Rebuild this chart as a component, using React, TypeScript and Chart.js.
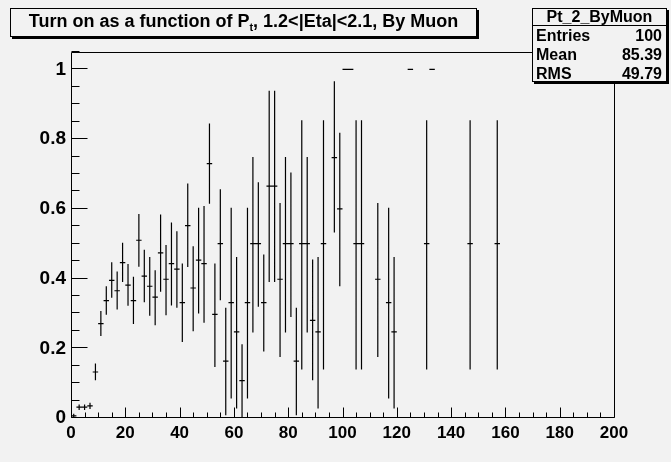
import React, { useEffect, useRef } from 'react';
import { Chart, registerables } from 'chart.js';

Chart.register(...registerables);

// Bin centres (bin width 2) of the turn-on histogram
const binCenters = [
  1, 3, 5, 7, 9, 11, 13, 15, 17, 19, 21, 23, 25, 27, 29, 31, 33, 35, 37, 39,
  41, 43, 45, 47, 49, 51, 53, 55, 57, 59, 61, 63, 65, 67, 69, 71, 73, 75, 77, 79,
  81, 83, 85, 87, 89, 91, 93, 97, 99, 101, 103, 105, 107, 113, 117, 119, 125, 131, 133, 147, 157,
];
// Efficiency in each bin
const efficiency = [
  0.006, 0.031, 0.031, 0.035, 0.132, 0.271, 0.337, 0.395, 0.365, 0.446, 0.381, 0.337, 0.51, 0.407, 0.378, 0.347, 0.474, 0.398, 0.443, 0.427,
  0.331, 0.552, 0.373, 0.453, 0.443, 0.73, 0.297, 0.5, 0.163, 0.331, 0.247, 0.107, 0.331, 0.5, 0.5, 0.331, 0.665, 0.665, 0.398, 0.5,
  0.5, 0.163, 0.5, 0.5, 0.28, 0.247, 0.5, 0.747, 0.6, 1, 1, 0.5, 0.5, 0.398, 0.331, 0.247, 1, 0.5, 1, 0.5, 0.5,
];
// Lower edge of the error bar
const errLow = [
  0.0, 0.023, 0.023, 0.026, 0.108, 0.235, 0.296, 0.345, 0.311, 0.39, 0.322, 0.27, 0.434, 0.332, 0.293, 0.266, 0.362, 0.295, 0.323, 0.316,
  0.218, 0.433, 0.249, 0.3, 0.273, 0.615, 0.146, 0.338, 0.008, 0.056, 0.027, 0.0, 0.056, 0.245, 0.319, 0.191, 0.39, 0.39, 0.175, 0.245,
  0.29, 0.008, 0.139, 0.245, 0.108, 0.027, 0.139, 0.532, 0.378, 1, 1, 0.139, 0.139, 0.175, 0.056, 0.027, 1, 0.139, 1, 0.139, 0.139,
];
// Upper edge of the error bar
const errHigh = [
  0.012, 0.039, 0.039, 0.044, 0.156, 0.307, 0.378, 0.447, 0.42, 0.503, 0.442, 0.405, 0.585, 0.483, 0.462, 0.424, 0.584, 0.496, 0.561, 0.536,
  0.443, 0.673, 0.493, 0.603, 0.608, 0.845, 0.443, 0.656, 0.316, 0.603, 0.462, 0.2115, 0.603, 0.749, 0.676, 0.469, 0.939, 0.939, 0.617, 0.749,
  0.704, 0.316, 0.854, 0.749, 0.455, 0.462, 0.854, 0.966, 0.818, 1, 1, 0.854, 0.854, 0.617, 0.603, 0.462, 1, 0.854, 1, 0.854, 0.854,
];
const binHalfWidth = 1;

const titleText = 'Turn on as a function of P';
const titleSub = 't';
const titleRest = ', 1.2<|Eta|<2.1, By Muon';
const statsName = 'Pt_2_ByMuon';
const statsLabels = ['Entries', 'Mean', 'RMS'];
const statsValues = ['100', '85.39', '49.79'];

const BG = '#f2f2f2';
const FONT = '"Liberation Sans", Arial, Helvetica, sans-serif';

const frameTicks = {
  id: 'frameTicks',
  afterDatasetsDraw(chart: any) {
    const { ctx, chartArea, scales } = chart;
    const { left, right, top, bottom } = chartArea;
    const x = scales.x;
    const y = scales.y;
    ctx.save();
    ctx.strokeStyle = '#000';
    ctx.lineWidth = 1;
    const L = Math.round(left) + 0.5;
    const R = Math.round(right) + 0.5;
    const T = Math.round(top) + 0.5;
    const B = Math.round(bottom) - 0.5;
    ctx.beginPath();
    ctx.moveTo(L, T);
    ctx.lineTo(R, T);
    ctx.lineTo(R, B);
    ctx.lineTo(L, B);
    ctx.closePath();
    ctx.stroke();
    ctx.beginPath();
    for (let v = 0; v <= 200; v += 5) {
      const px = Math.round(x.getPixelForValue(v)) + 0.5;
      const len = v % 20 === 0 ? 10 : 5;
      ctx.moveTo(px, B);
      ctx.lineTo(px, B - len);
    }
    for (let i = 0; i <= 21; i++) {
      const py = Math.round(y.getPixelForValue(i * 0.05)) - 0.5;
      const len = i % 4 === 0 ? 16 : 8;
      ctx.moveTo(L, py);
      ctx.lineTo(L + len, py);
    }
    ctx.stroke();
    ctx.restore();
  },
};

export default function App() {
  const canvasRef = useRef<HTMLCanvasElement | null>(null);

  useEffect(() => {
    if (!canvasRef.current) return;
    const hSeg: any[] = [];
    const vSeg: any[] = [];
    binCenters.forEach((c, i) => {
      hSeg.push({ x: c - binHalfWidth, y: efficiency[i] });
      hSeg.push({ x: c + binHalfWidth, y: efficiency[i] });
      hSeg.push({ x: c + binHalfWidth, y: null });
      if (errHigh[i] > errLow[i]) {
        vSeg.push({ x: c, y: errLow[i] });
        vSeg.push({ x: c, y: errHigh[i] });
        vSeg.push({ x: c, y: null });
      }
    });
    const lineDs = (data: any[]) => ({
      data,
      showLine: true,
      borderColor: '#000',
      backgroundColor: '#000',
      borderWidth: 1.2,
      pointRadius: 0,
      pointHoverRadius: 0,
      spanGaps: false,
      fill: false,
    });
    const chart = new Chart(canvasRef.current, {
      type: 'scatter',
      data: { datasets: [lineDs(hSeg), lineDs(vSeg)] as any },
      options: {
        animation: false,
        responsive: false,
        devicePixelRatio: 1,
        layout: { padding: { top: 52, right: 57, left: 0, bottom: 0 } },
        plugins: { legend: { display: false }, tooltip: { enabled: false }, title: { display: false } },
        scales: {
          x: {
            type: 'linear',
            min: 0,
            max: 200,
            grid: { display: false, drawTicks: false },
            border: { display: false },
            ticks: {
              stepSize: 20,
              autoSkip: false,
              maxRotation: 0,
              color: '#000',
              padding: 5,
              font: { family: FONT, weight: 'bold', size: 17 },
            },
            afterFit: (s: any) => {
              s.height = 44;
            },
          },
          y: {
            type: 'linear',
            min: 0,
            max: 1.05,
            grid: { display: false, drawTicks: false },
            border: { display: false },
            ticks: {
              stepSize: 0.2,
              includeBounds: false,
              color: '#000',
              padding: 5,
              font: { family: FONT, weight: 'bold', size: 19 },
              callback: (v: any) => String(parseFloat(Number(v).toFixed(2))),
            },
            afterFit: (s: any) => {
              s.width = 71;
            },
          },
        },
      } as any,
      plugins: [frameTicks],
    });
    return () => chart.destroy();
  }, []);

  return (
    <div
      style={{
        position: 'fixed',
        left: 0,
        top: 0,
        width: 671,
        height: 462,
        background: BG,
        overflow: 'hidden',
        fontFamily: FONT,
      }}
    >
      <canvas ref={canvasRef} width={671} height={462} style={{ position: 'absolute', left: 0, top: 0 }} />
      <div
        style={{
          position: 'absolute',
          left: 10,
          top: 8,
          width: 467,
          height: 29,
          boxSizing: 'border-box',
          border: '1px solid #000',
          boxShadow: '2px 2px 0 #000',
          background: BG,
          textAlign: 'center',
          fontWeight: 'bold',
          fontSize: 18,
          lineHeight: '25px',
          whiteSpace: 'nowrap',
          color: '#000',
        }}
      >
        {titleText}
        <span style={{ fontSize: 11, position: 'relative', top: 4 }}>{titleSub}</span>
        {titleRest}
      </div>
      <div
        style={{
          position: 'absolute',
          left: 532,
          top: 8,
          width: 135,
          height: 74,
          boxSizing: 'border-box',
          border: '1px solid #000',
          boxShadow: '2px 2px 0 #000',
          background: BG,
          overflow: 'hidden',
          fontWeight: 'bold',
          fontSize: 16,
          color: '#000',
        }}
      >
        <div style={{ height: 16, lineHeight: '16px', textAlign: 'center', borderBottom: '1px solid #000' }}>{statsName}</div>
        {statsLabels.map((l, i) => (
          <div
            key={l}
            style={{ height: 19, lineHeight: '19px', display: 'flex', justifyContent: 'space-between', padding: '0 4px 0 3px' }}
          >
            <span>{l}</span>
            <span>{statsValues[i]}</span>
          </div>
        ))}
      </div>
    </div>
  );
}
